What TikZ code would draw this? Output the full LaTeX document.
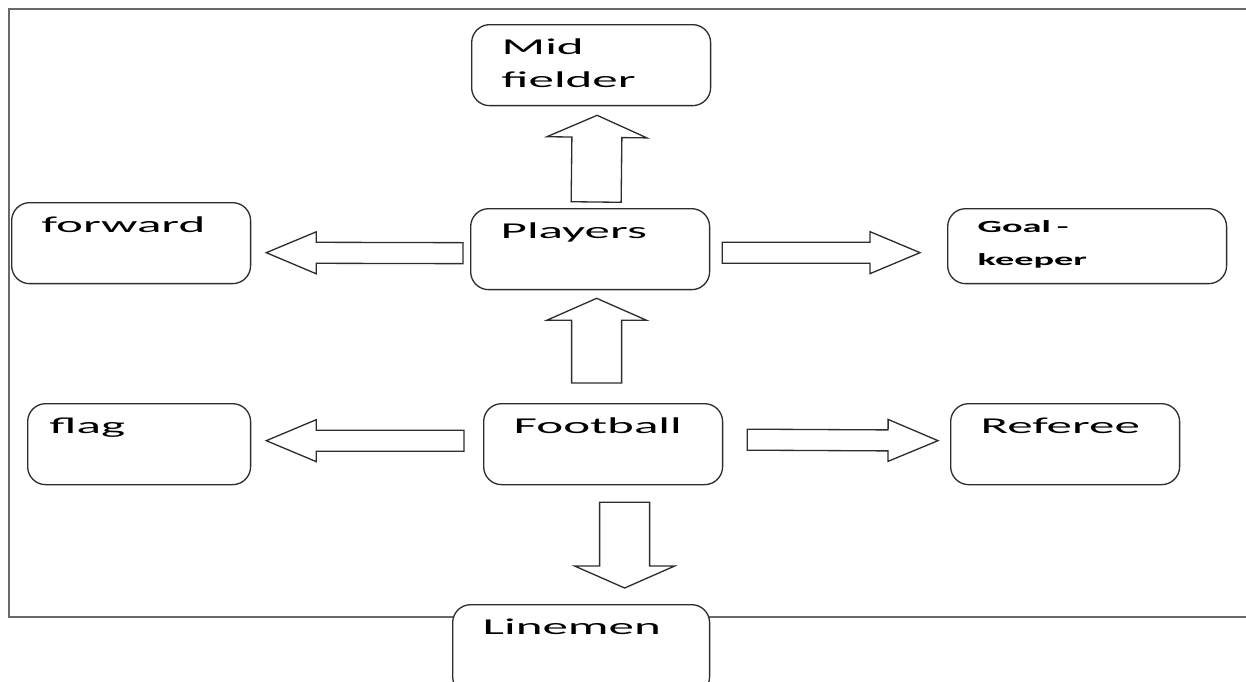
\documentclass[tikz,border=0pt]{standalone}
\usepackage{fontspec}
\setmainfont{Carlito}[FakeStretch=2.25]
\usetikzlibrary{calc}
\definecolor{boxline}{RGB}{45,45,45}
\definecolor{frameline}{RGB}{105,105,105}
\tikzset{
  box/.style={
    draw=boxline, fill=white, line width=0.75pt, rounded corners=0.36cm,
    anchor=north west, align=left, inner xsep=0.6cm, inner ysep=0pt,
    text width=3.58cm, text height=0.6cm, text depth=1.02cm,
    font=\fontsize{12.9pt}{18.8pt}\selectfont
  },
  smallbox/.style={box, font=\fontsize{9.7pt}{18.8pt}\selectfont\bfseries},
  blockarr/.style={draw=boxline, fill=white, line width=0.75pt},
  outerline/.style={draw=frameline, line width=1.1pt}
}
% block arrow: start, tip, shaft half width, head half width, head length
\newcommand{\bigarrow}[5]{%
  \coordinate (ba-s) at (#1);
  \coordinate (ba-t) at (#2);
  \coordinate (ba-h) at ($(ba-t)!#5!(ba-s)$);
  \draw[blockarr] ($(ba-s)!#3!90:(ba-t)$) -- ($(ba-h)!#3!90:(ba-t)$)
    -- ($(ba-h)!#4!90:(ba-t)$) -- (ba-t) -- ($(ba-h)!#4!-90:(ba-t)$)
    -- ($(ba-h)!#3!-90:(ba-t)$) -- ($(ba-s)!#3!-90:(ba-t)$) -- cycle;
}
\newcommand{\uparr}[2]{\bigarrow{#1}{#2}{0.5cm}{1.0cm}{0.44cm}}
\newcommand{\sidearr}[2]{\bigarrow{#1}{#2}{0.21cm}{0.42cm}{1.0cm}}

\begin{document}
\begin{tikzpicture}[x=0.02cm, y=-0.02cm]
  \useasboundingbox (0,0) rectangle (1246,681);

  % page frame
  \draw[outerline] (1246,9) -| (9,617) -- (1246,617);

  \node[box] (mid)      at (471,24)  {Mid\\fielder};
  \node[box] (forward)  at (11,202)  {forward};
  \node[box] (players)  at (470,208) {Players};
  \node[smallbox, text width=4.38cm, text height=0.48cm] (goal) at (947,208)
        {Goal -\\keeper};
  \node[box, inner xsep=0.44cm, text width=3.58cm] (flag) at (27,403) {flag};
  \node[box] (football) at (483,403) {Football};
  \node[box, text width=3.38cm] (referee) at (950,403) {Referee};
  \node[box, text width=3.94cm, text depth=1.2cm] (linemen) at (452,604)
        {Linemen};

  \uparr{$(players.north)+(6,-6)$}{$(mid.south)+(6,9)$}
  \uparr{$(football.north)+(-6.5,-20)$}{$(players.south)+(6.5,8)$}
  \uparr{$(football.south)+(21.5,17)$}{$(linemen.north)+(43.5,-16)$}
  \sidearr{$(players.west)+(-7,4)$}{$(forward.east)+(15,9.5)$}
  \sidearr{$(players.east)+(12,3.5)$}{$(goal.west)+(-27,6.5)$}
  \sidearr{$(football.west)+(-19,-3.5)$}{$(flag.east)+(15,-3.5)$}
  \sidearr{$(football.east)+(24,-4.5)$}{$(referee.west)+(-12,-3.5)$}
\end{tikzpicture}
\end{document}
